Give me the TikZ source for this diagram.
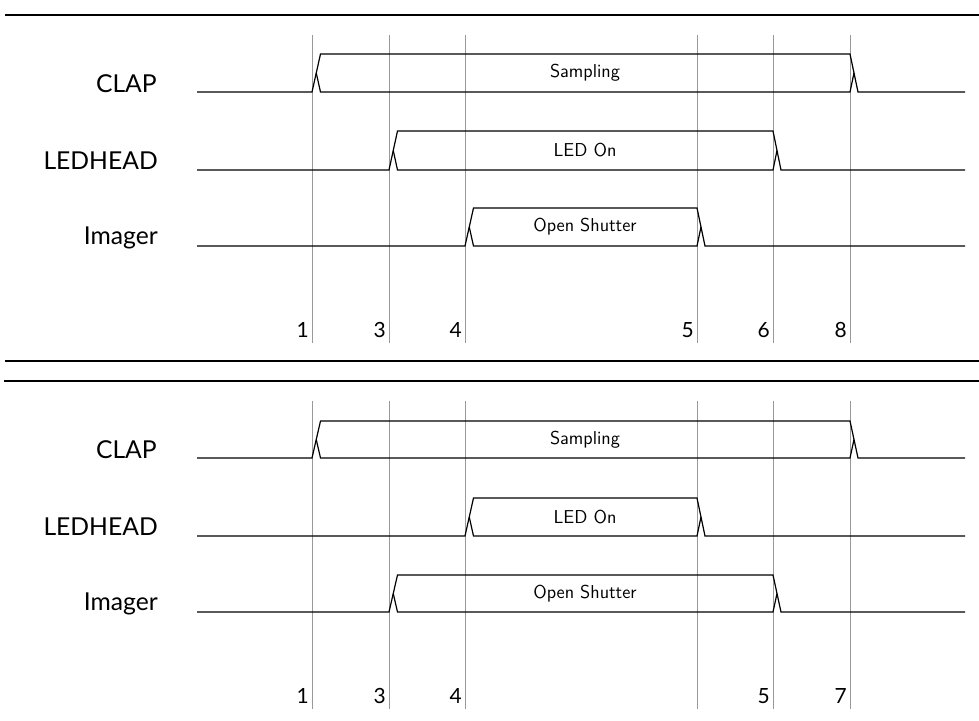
\documentclass[tikz,border=0pt]{standalone}
\usepackage{fontspec}
\usepackage{tikz}
\newfontfamily\latofont{Lato}

\tikzset{
  sig/.style={line width=0.9pt},
  tick/.style={gray!80, line width=0.5pt},
  rule/.style={line width=1.9pt},
  signame/.style={anchor=base east, inner sep=0pt, font=\latofont\fontsize{18.5}{20}\selectfont},
  tnum/.style={anchor=base east, inner sep=0pt, font=\latofont\fontsize{15.7}{18}\selectfont},
  phase/.style={inner sep=0pt, font=\sffamily\fontsize{14}{16}\selectfont},
}

% one row: name, low y, high y, rise x, fall x, text
\newcommand{\pulserow}[6]{%
  \draw[sig] (197,#2) -- (#4,#2) -- (#4+8.5,#3) -- (#5,#3) -- (#5+8,#2) -- (965,#2);
  \draw[sig] (#4+4.25,{(#2+#3)/2}) -- (#4+8.5,#2) -- (#5,#2) -- (#5+4,{(#2+#3)/2});
  \node[phase] (#1) at ({(#4+8+#5)/2},{(#2+#3)/2}) {#6};
}

\begin{document}
\begin{tikzpicture}[x=0.75pt,y=-0.75pt]
\useasboundingbox (0,0) rectangle (979,721);

% first case
\draw[rule] (5,15) -- (979,15);
\foreach \x in {312,389,465,697,773,850}
  \draw[tick] (\x,35) -- (\x,343);
\node[signame] (clapA) at (157,92) {CLAP};
\node[signame] (ledA) at (158,169) {LEDHEAD};
\node[signame] (imgA) at (158,244) {Imager};
\pulserow{sampA}{92}{54}{312}{850}{Sampling}
\pulserow{ledonA}{170}{131}{389}{773}{LED On}
\pulserow{shutA}{246}{208}{465}{697}{Open Shutter}
\node[tnum] (a1) at (309,337) {1};
\node[tnum] (a3) at (386,337) {3};
\node[tnum] (a4) at (462,337) {4};
\node[tnum] (a5) at (694,337) {5};
\node[tnum] (a6) at (770,337) {6};
\node[tnum] (a8) at (847,337) {8};
\draw[rule] (5,361) -- (979,361);

% second case
\draw[rule] (4,381) -- (979,381);
\foreach \x in {312,389,465,697,773,850}
  \draw[tick] (\x,401) -- (\x,709);
\node[signame] (clapB) at (157,458) {CLAP};
\node[signame] (ledB) at (158,535) {LEDHEAD};
\node[signame] (imgB) at (158,610) {Imager};
\pulserow{sampB}{458}{421}{312}{850}{Sampling}
\pulserow{ledonB}{536}{498}{465}{697}{LED On}
\pulserow{shutB}{612}{575}{389}{773}{Open Shutter}
\node[tnum] (b1) at (309,703) {1};
\node[tnum] (b3) at (386,703) {3};
\node[tnum] (b4) at (462,703) {4};
\node[tnum] (b5) at (770,703) {5};
\node[tnum] (b7) at (847,703) {7};
\end{tikzpicture}
\end{document}
